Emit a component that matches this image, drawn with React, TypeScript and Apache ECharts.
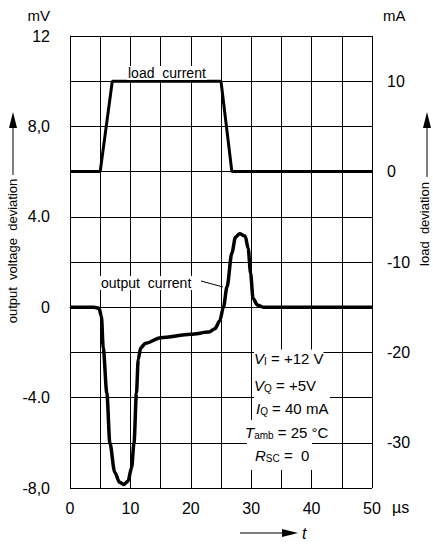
import React, { useEffect, useRef } from "react";
import * as echarts from "echarts";

const FONT = "'Liberation Sans', Arial, sans-serif";

// time (µs) / load current (mA)
const loadT = [0, 5, 7, 25, 26.8, 50];
const loadI = [0, 0, 10, 10, 0, 0];

// time (µs) / output voltage deviation (mV)
const outT = [0, 4, 4.8, 5.2, 5.5, 6.1, 6.6, 7.4, 8.2, 8.9, 9.6, 10.2, 10.6, 11, 11.3, 11.7, 12.5, 15, 20, 23, 24, 24.8, 25.4, 26, 26.8, 27.4, 28.1, 29, 29.5, 29.9, 30.3, 31, 32, 50];
const outV = [0, 0, -0.05, -0.4, -1.8, -3.8, -6.0, -7.3, -7.75, -7.85, -7.7, -7.1, -6.0, -3.8, -2.3, -1.8, -1.6, -1.35, -1.2, -1.1, -0.95, -0.6, 0, 0.9, 2.4, 3.1, 3.25, 3.15, 2.6, 1.5, 0.4, 0.1, 0, 0];

const leftTicks: Record<string, string> = { "12": "12", "8": "8,0", "4": "4.0", "0": "0", "-4": "-4.0", "-8": "-8,0" };
const rightTicks = [10, 0, -10, -20, -30];
const xTicks = [0, 10, 20, 30, 40, 50];

export default function App() {
  const ref = useRef<HTMLDivElement>(null);
  useEffect(() => {
    if (!ref.current) return;
    const chart = echarts.init(ref.current, null, { renderer: "svg" });
    const black = "#000";
    const txt = (x: number, y: number, text: string, extra: any = {}) => ({
      type: "text",
      x,
      y,
      z: 20,
      style: { text, fontFamily: FONT, fontSize: 14, fill: black, ...extra },
    });
    const rich = {
      i: { fontFamily: FONT, fontSize: 15, fontStyle: "italic", fill: black },
      s: { fontFamily: FONT, fontSize: 10, fill: black, padding: [7, 0, 0, 0] },
      n: { fontFamily: FONT, fontSize: 15, fill: black },
    };
    const param = (x: number, y: number, text: string) => ({
      type: "text",
      x,
      y,
      z: 20,
      style: { text, rich, fontFamily: FONT, fontSize: 15, fill: black, verticalAlign: "middle", backgroundColor: "#fff" },
    });
    chart.setOption({
      animation: false,
      backgroundColor: "#fff",
      grid: { left: 70, right: 61, top: 36, bottom: 56 },
      xAxis: {
        type: "value",
        min: 0,
        max: 50,
        interval: 5,
        axisLine: { show: true, lineStyle: { color: black, width: 1 } },
        axisTick: { show: false },
        splitLine: { show: true, lineStyle: { color: black, width: 1 } },
        axisLabel: {
          margin: 12,
          fontFamily: FONT,
          fontSize: 16,
          color: black,
          formatter: (v: number) => (xTicks.includes(v) ? String(v) : ""),
        },
      },
      yAxis: [
        {
          type: "value",
          min: -8,
          max: 12,
          interval: 2,
          axisLine: { show: true, lineStyle: { color: black, width: 1 } },
          axisTick: { show: false },
          splitLine: { show: true, lineStyle: { color: black, width: 1 } },
          axisLabel: {
            margin: 20,
            fontFamily: FONT,
            fontSize: 16,
            color: black,
            formatter: (v: number) => leftTicks[String(v)] ?? "",
          },
        },
        {
          type: "value",
          min: -35,
          max: 15,
          interval: 5,
          position: "right",
          axisLine: { show: false },
          axisTick: { show: false },
          splitLine: { show: false },
          axisLabel: {
            margin: 15,
            fontFamily: FONT,
            fontSize: 16,
            color: black,
            formatter: (v: number) => (rightTicks.includes(v) ? String(v) : ""),
          },
        },
      ],
      series: [
        {
          type: "line",
          yAxisIndex: 1,
          data: loadT.map((t, i) => [t, loadI[i]]),
          showSymbol: false,
          lineStyle: { color: black, width: 3 },
          z: 5,
        },
        {
          type: "line",
          yAxisIndex: 0,
          data: outT.map((t, i) => [t, outV[i]]),
          showSymbol: false,
          smooth: 0.3,
          smoothMonotone: "x",
          lineStyle: { color: black, width: 3.5 },
          z: 5,
        },
      ],
      graphic: [
        // blanking behind parameter block
        { type: "rect", z: 10, shape: { x: 254, y: 354, width: 76, height: 66 }, style: { fill: "#fff" } },
        { type: "rect", z: 10, shape: { x: 247, y: 420, width: 65, height: 50 }, style: { fill: "#fff" } },
        param(254, 358, "{i|V}{s|I}{n| = +12 V}"),
        param(254, 385, "{i|V}{s|Q}{n| = +5V}"),
        param(256, 408, "{i|I}{s|Q}{n| = 40 mA}"),
        param(245, 432, "{i|T}{s|amb}{n| = 25 °C}"),
        param(255, 455, "{i|R}{s|SC}{n| =  0}"),
        // curve labels
        txt(127, 73, "load  current", { verticalAlign: "middle", backgroundColor: "#fff", padding: [0, 1] }),
        txt(100, 283, "output  current", { verticalAlign: "middle", backgroundColor: "#fff", padding: [0, 1] }),
        { type: "line", z: 20, shape: { x1: 201, y1: 281, x2: 223, y2: 287 }, style: { stroke: black, lineWidth: 1 } },
        // unit labels
        txt(50, 15, "mV", { align: "right", verticalAlign: "middle", fontSize: 15 }),
        txt(383, 15, "mA", { align: "left", verticalAlign: "middle", fontSize: 15 }),
        txt(392, 507, "µs", { align: "left", verticalAlign: "middle", fontSize: 16 }),
        // left axis name
        {
          type: "text",
          x: 12,
          y: 251,
          rotation: Math.PI / 2,
          z: 20,
          style: { text: "output  voltage  deviation", fontFamily: FONT, fontSize: 13, fill: black, align: "center", verticalAlign: "middle" },
        },
        { type: "line", z: 20, shape: { x1: 13, y1: 175, x2: 13, y2: 126 }, style: { stroke: black, lineWidth: 1 } },
        { type: "polygon", z: 20, shape: { points: [[13, 112], [9, 128], [17, 128]] }, style: { fill: black } },
        // right axis name
        {
          type: "text",
          x: 424,
          y: 224,
          rotation: Math.PI / 2,
          z: 20,
          style: { text: "load  deviation", fontFamily: FONT, fontSize: 13, fill: black, align: "center", verticalAlign: "middle" },
        },
        { type: "line", z: 20, shape: { x1: 427, y1: 177, x2: 427, y2: 126 }, style: { stroke: black, lineWidth: 1 } },
        { type: "polygon", z: 20, shape: { points: [[427, 112], [423, 128], [431, 128]] }, style: { fill: black } },
        // time arrow
        { type: "line", z: 20, shape: { x1: 240, y1: 533, x2: 284, y2: 533 }, style: { stroke: black, lineWidth: 1 } },
        { type: "polygon", z: 20, shape: { points: [[298, 533], [282, 529], [282, 537]] }, style: { fill: black } },
        txt(302, 533, "t", { verticalAlign: "middle", fontStyle: "italic", fontSize: 16 }),
      ],
    });
    return () => chart.dispose();
  }, []);
  return <div ref={ref} style={{ position: "fixed", left: 0, top: 0, width: 433, height: 544 }} />;
}
